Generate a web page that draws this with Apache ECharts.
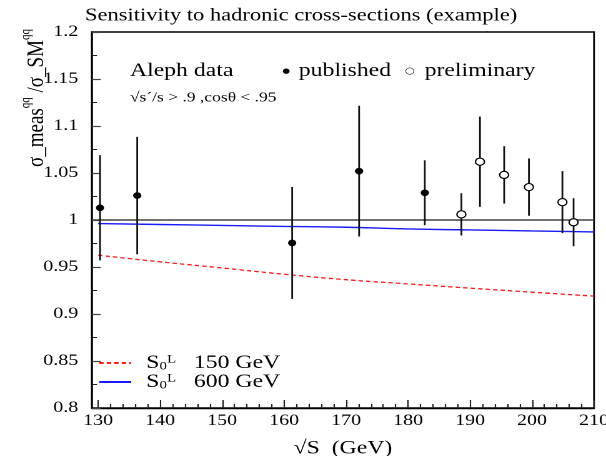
<!DOCTYPE html>
<html><head><meta charset="utf-8">
<script src="https://cdn.jsdelivr.net/npm/echarts@6/dist/echarts.min.js"></script>
<style>
html,body{margin:0;padding:0;background:#fff;overflow:hidden}
#c{width:485px;height:456px;transform:scaleX(1.2495);transform-origin:0 0}
</style>
</head><body><div id="c"></div>
<script>
// ---- data ----
const energies = [130.3, 136.3, 161.3, 172.1, 182.7, 188.6, 191.6, 195.5, 199.5, 204.9, 206.7];
const ratios   = [1.013, 1.026, 0.9756, 1.052, 1.029, 1.006, 1.062, 1.048, 1.035, 1.019, 0.9976];
const errors   = [0.056, 0.0625, 0.0595, 0.0695, 0.0345, 0.0225, 0.048, 0.0305, 0.0305, 0.033, 0.0255];
const published = [true, true, true, true, true, false, false, false, false, false, false];
const curveX  = [130, 140, 150, 160, 170, 180, 190, 200, 210];
const s0L150  = [0.9626, 0.9555, 0.949, 0.9423, 0.9365, 0.932, 0.9275, 0.9232, 0.919];
const s0L600  = [0.9962, 0.9952, 0.9942, 0.9932, 0.9923, 0.9905, 0.9894, 0.9884, 0.9873];
const refX = [129, 210];
const refY = [1, 1];
const xMajorTicks = [130, 140, 150, 160, 170, 180, 190, 200, 210];
const xMinorTicks = [132, 134, 136, 138, 142, 144, 146, 148, 152, 154, 156, 158, 162, 164, 166, 168,
                     172, 174, 176, 178, 182, 184, 186, 188, 192, 194, 196, 198, 202, 204, 206, 208];
const titleText = 'Sensitivity to hadronic cross-sections (example)';

const SERIF = '"Liberation Serif", "DejaVu Serif", serif';
const pubPts = [], prePts = [], errPts = [];
energies.forEach((e, i) => {
  (published[i] ? pubPts : prePts).push([e, ratios[i]]);
  errPts.push([e, ratios[i], errors[i]]);
});

const chart = echarts.init(document.getElementById('c'), null, {renderer: 'canvas', devicePixelRatio: 2});
const option = {
  animation: false,
  backgroundColor: '#fff',
  grid: {left: 73.6, right: 9.6, top: 32, bottom: 48, containLabel: false, outerBoundsMode: 'none',
         show: true, borderColor: '#000', borderWidth: 1.4, backgroundColor: 'transparent'},
  legend: {
    orient: 'vertical', left: 78.4, top: 353.5, padding: 0, itemGap: 0,
    itemWidth: 25.6, itemHeight: 14,
    itemStyle: {opacity: 0},
    data: ['150', '600'],
    formatter: n => '{m|S}{sub|0}{sup|L}{m|   ' + n + ' GeV}',
    textStyle: {
      fontFamily: SERIF, color: '#000', padding: [0, 0, 0, 7],
      rich: {
        m: {fontFamily: SERIF, fontSize: 19, lineHeight: 19, color: '#000'},
        sub: {fontFamily: SERIF, fontSize: 12, verticalAlign: 'bottom', lineHeight: 19, color: '#000'},
        sup: {fontFamily: SERIF, fontSize: 12, verticalAlign: 'top', lineHeight: 19, color: '#000'}
      }
    }
  },
  xAxis: [{
    type: 'value', min: 129, max: 210,
    axisLine: {show: true, onZero: false, lineStyle: {color: '#000', width: 1.4}},
    axisTick: {show: true, inside: true, length: 8, customValues: xMajorTicks, lineStyle: {color: '#222', width: 1.1}},
    axisLabel: {show: true, customValues: xMajorTicks, margin: 5, fontFamily: SERIF, fontSize: 16, color: '#000', showMaxLabel: true, showMinLabel: true, hideOverlap: false},
    splitLine: {show: false},
    name: '√S  (GeV)', nameLocation: 'middle', nameGap: 31,
    nameTextStyle: {fontFamily: SERIF, fontSize: 19, color: '#000'}
  }, {
    type: 'value', min: 129, max: 210, position: 'bottom',
    axisLine: {show: false},
    axisTick: {show: true, inside: true, length: 4, customValues: xMinorTicks, lineStyle: {color: '#222', width: 1.1}},
    axisLabel: {show: false},
    splitLine: {show: false}
  }],
  yAxis: {
    type: 'value', min: 0.8, max: 1.2, interval: 0.05,
    axisLine: {show: true, onZero: false, lineStyle: {color: '#000', width: 1.4}},
    axisTick: {show: true, inside: true, length: 7, lineStyle: {color: '#444', width: 1.2}},
    minorTick: {show: true, splitNumber: 2, length: 4, lineStyle: {color: '#222', width: 1}},
    axisLabel: {margin: 11, fontFamily: SERIF, fontSize: 16, color: '#000', showMaxLabel: true, showMinLabel: true},
    splitLine: {show: false}
  },
  graphic: [
    {type: 'text', x: 241, y: 16, style: {text: titleText, font: '18px ' + SERIF, fill: '#000', align: 'center', verticalAlign: 'middle'}},
    {type: 'text', x: 104, y: 71, style: {text: 'Aleph data', font: '19px ' + SERIF, fill: '#000', verticalAlign: 'middle'}},
    {type: 'text', x: 226, y: 71, style: {
      text: '{d|●}{m|published}{o|○}{p|preliminary}', verticalAlign: 'middle',
      rich: {
        m: {fontFamily: SERIF, fontSize: 19, color: '#000', lineHeight: 22, padding: [0, 0, 0, 7]},
        p: {fontFamily: SERIF, fontSize: 19, color: '#000', lineHeight: 22, padding: [0, 0, 0, 8]},
        d: {fontFamily: 'DejaVu Sans', fontSize: 7, color: '#000', lineHeight: 22, verticalAlign: 'middle'},
        o: {fontFamily: 'DejaVu Sans', fontSize: 9, color: '#000', lineHeight: 22, verticalAlign: 'middle', padding: [0, 0, 0, 11]}
      }}},
    {type: 'text', x: 104, y: 98, style: {text: '√s´/s > .9 ,cosθ < .95', font: '14px ' + SERIF, fill: '#000', verticalAlign: 'middle'}},
    {type: 'text', x: 27, y: 98, rotation: Math.PI / 2, style: {
      text: '{m|σ_meas}{s|qq}{m| /σ_SM}{s|qq}', align: 'center', verticalAlign: 'middle',
      rich: {
        m: {fontFamily: SERIF, fontSize: 19, color: '#000', lineHeight: 24, verticalAlign: 'bottom'},
        s: {fontFamily: SERIF, fontSize: 11, color: '#000', lineHeight: 24, verticalAlign: 'top'}
      }}}
  ],
  series: [
    {type: 'line', name: 'ref', data: refX.map((x, i) => [x, refY[i]]), showSymbol: false, symbol: 'none',
     lineStyle: {color: '#444', width: 1.4}, z: 1, silent: true},
    {type: 'line', name: '150', data: curveX.map((x, i) => [x, s0L150[i]]), symbol: 'none', smooth: true,
     lineStyle: {color: '#ff1a1a', width: 1.3, type: [3.5, 2.5]}, itemStyle: {color: '#ff1a1a'}, z: 2},
    {type: 'line', name: '600', data: curveX.map((x, i) => [x, s0L600[i]]), symbol: 'none', smooth: true,
     lineStyle: {color: '#1a1aff', width: 1.4}, itemStyle: {color: '#1a1aff'}, z: 2},
    {type: 'custom', name: 'err', data: errPts, z: 3,
     renderItem: (params, api) => {
       const x = api.value(0), y = api.value(1), e = api.value(2);
       const a = api.coord([x, y + e]), b = api.coord([x, y - e]);
       return {type: 'line', shape: {x1: a[0], y1: a[1], x2: b[0], y2: b[1]}, style: {stroke: '#111', lineWidth: 1.4}};
     }},
    {type: 'scatter', name: 'published', data: pubPts, symbol: 'circle', symbolSize: 6.6,
     itemStyle: {color: '#000', opacity: 1}, z: 4},
    {type: 'scatter', name: 'preliminary', data: prePts, symbol: 'circle', symbolSize: 7.2,
     itemStyle: {color: '#fff', borderColor: '#000', borderWidth: 1.1, opacity: 1}, z: 4}
  ]
};
chart.setOption(option);
</script></body></html>
